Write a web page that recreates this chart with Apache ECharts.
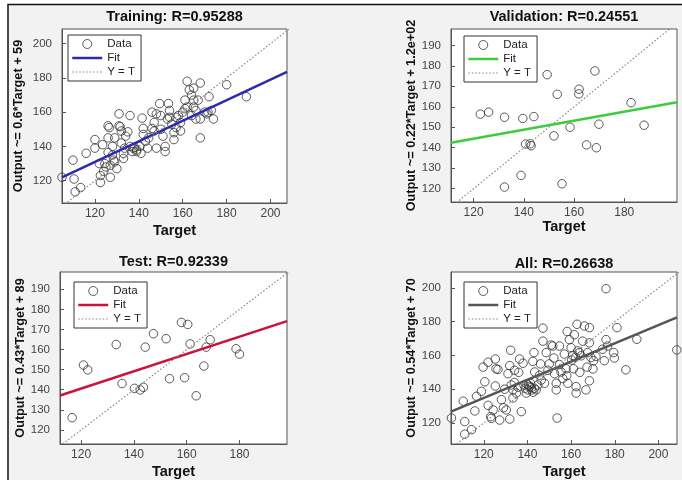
<!DOCTYPE html>
<html>
<head>
<meta charset="utf-8">
<script src="https://cdn.jsdelivr.net/npm/echarts@6/dist/echarts.min.js"></script>
<style>html,body{margin:0;padding:0;background:#fff}#c{width:682px;height:480px}</style>
</head>
<body>
<div id="c"></div>
<script>
// ---------------- DATA ----------------
const panelTitles = ['Training: R=0.95288', 'Validation: R=0.24551', 'Test: R=0.92339', 'All: R=0.26638'];
const yAxisLabels = ['Output ~= 0.6*Target + 59', 'Output ~= 0.22*Target + 1.2e+02', 'Output ~= 0.43*Target + 89', 'Output ~= 0.54*Target + 70'];
const xAxisLabel = 'Target';
const legendNames = ['Data', 'Fit', 'Y = T'];
const fitSlope = [0.6, 0.22, 0.43, 0.54];
const fitIntercept = [59, 118, 89, 70];
const xRange = [[105, 207.5], [111, 201], [112, 198], [105, 208.5]];
const yRange = [[107, 208.5], [113.5, 198], [113, 198.6], [107.5, 209.5]];
const xTicks = [[120, 140, 160, 180, 200], [120, 140, 160, 180], [120, 140, 160, 180], [120, 140, 160, 180, 200]];
const yTicks = [[120, 140, 160, 180, 200], [120, 130, 140, 150, 160, 170, 180, 190], [120, 130, 140, 150, 160, 170, 180, 190], [120, 140, 160, 180, 200]];

const trainingPts = [[105,122],[110,132],[110.5,121],[111,113.5],[113.5,116],[116,136],[120,144],[120,139],[122,130],[122.5,119],[122.5,123],[123.5,141],[124,125.5],[124.5,130],[125,128],[126,152],[126.5,151],[126,136.5],[126,145],[127,122],[127,129],[128,135],[128,140],[128.5,132],[129,131],[129,145],[130,127],[131,159],[131,152],[131.5,151.5],[132,142],[132,149],[133,136],[133,133],[133.5,139],[135,148.5],[136,158],[136,140],[134,146],[137.5,139],[137,137],[138,139.5],[139,138],[139,137],[140.5,140],[141.5,156.5],[142,150.5],[141,136],[142,147],[143,143],[144,139],[144.5,145],[146,150.5],[146,160],[147,154],[148,159],[147,149],[148,139],[149.5,165],[150,158],[150,150],[151,146],[152,140],[152,137],[153,156],[153.5,165],[154,161],[155,153],[154,157],[156,148],[156,144],[157,157],[157,151],[158,158],[159,154],[159,149],[160,160],[161,167],[162,178],[161,162],[162,163],[163,173],[164,170],[164,158],[165,163],[165,167],[165,174],[166,156],[166,161],[168,177],[167,167],[168,145],[168,156],[170,160],[171,159],[171.5,160],[172,169],[174,156],[173,161],[180,176],[189,169],[208,163]];
const validationPts = [[122.7,156.4],[126,157.4],[132.3,154.9],[132.3,120.8],[138.9,126.5],[139.6,154.3],[140.7,141.8],[142.5,141.9],[142.9,141],[144,155.2],[149.3,175.7],[152,145.8],[153.3,166.1],[155.2,122.4],[158.4,150],[162,168.6],[161.9,166.3],[165,141.4],[168.9,140],[168.3,177.5],[169.9,151.5],[182.7,162],[187.9,151]];
const testPts = [[116.6,126.1],[120.9,152.3],[122.5,149.9],[133.3,162.5],[135.5,143.1],[140.2,140.7],[142.4,139.9],[143.6,141.2],[144.3,161.2],[147.4,167.9],[152.2,165.4],[153.5,145.5],[158,173.5],[160.4,172.5],[159.2,146],[161.3,162.8],[163.6,137],[166.5,151.8],[167.4,161.2],[168.9,164.9],[178.7,160.4],[180,157.7]];
const allPts = [[105.2,122.9],[110.6,132.9],[111.3,120.8],[111.3,113.3],[114.4,116],[115.9,127.1],[116.7,135.8],[118.9,138.7],[119.7,153.1],[120.5,144.4],[122,156],[122,130.4],[123.2,123.7],[123.5,122.7],[124.3,127.7],[125.3,157.9],[125.3,141.9],[125.6,152.1],[126.5,151.7],[127.3,121.7],[128.1,133.8],[129,129],[129.6,140],[130.3,127.7],[131.9,122.3],[131.1,149.2],[132.3,163.1],[131.9,154],[132.6,142.5],[133.4,139.6],[133.4,134.8],[134.1,151.2],[134.9,137.7],[135.7,141.2],[136.4,157.9],[137.2,126.7],[138,155.4],[138.4,142.5],[139,140.6],[139.5,137.7],[140.2,139.6],[141,141.5],[141.4,143.5],[142,139.6],[142.5,156.5],[143,161.7],[143.3,150.2],[144,139.6],[144.8,142.5],[145.6,148.3],[146.3,145.4],[147.1,176.2],[147.1,168.5],[147.8,143.5],[148.6,161.7],[149.4,151.2],[150.9,166.2],[151.6,165.6],[152.1,158.5],[152.4,149.2],[153.2,143.5],[153.2,139.6],[153.6,122.9],[154.7,165.6],[154.7,154.6],[155.4,150.2],[156.2,146.3],[156.9,160.8],[157.7,152.1],[158.2,174.2],[158.5,143.5],[159.2,169.4],[160,164.6],[160.3,157.3],[161.1,152.1],[161.5,172.3],[162.3,137.7],[162.3,141.5],[162.7,178.5],[163,162.7],[163.8,161.7],[164.6,159.8],[165.3,168.5],[166.1,177.5],[166.8,139.6],[167.3,153.1],[167.6,161.7],[168.4,176.5],[168.4,145],[168.4,167.5],[169.1,158.8],[170.3,156.9],[171.4,159.4],[174.4,163.7],[176,169.4],[176,199.6],[175.2,156.9],[176.7,165.6],[179.5,161.7],[179.8,158.5],[181,176.5],[185.1,151.5],[190.1,169.6],[208.4,163.3],[140.5,142.5],[141.8,141],[143.2,140.5],[139.8,143],[142.6,138.2],[160.8,160],[162,159],[134,144],[136,150],[146,155],[150,155],[158,148],[164,150],[170,152]];
const panelPts = [trainingPts, validationPts, testPts, allPts];

// ---------------- STYLE / LAYOUT ----------------
const FONT = '"Liberation Sans", Arial, sans-serif';
const fitColors = ['#2b2bb0', '#3dcc3d', '#c8143c', '#555555'];
const CLEAR = 'rgba(0,0,0,0)';
const grids = [
  {left: 62, top: 29, width: 225, height: 174},
  {left: 451, top: 29, width: 226, height: 173},
  {left: 60, top: 272, width: 227, height: 177},
  {left: 451, top: 272, width: 226, height: 177}
];
const titleTops = [9, 9, 254, 256];
const xNameGaps = [20, 13.5, 20, 20];
const yNameGaps = [37, 33, 33, 33];
const legendPos = [[68, 35], [464, 36], [74, 282], [464, 282]];

const option = {
  animation: false,
  backgroundColor: '#ffffff',
  graphic: [{
    type: 'rect', z: -10, silent: true,
    shape: {x: 8, y: 4.5, width: 800, height: 600},
    style: {fill: '#f2f2f2', stroke: '#111', lineWidth: 1.5}
  }],
  title: [], grid: [], xAxis: [], yAxis: [], legend: [], series: []
};

for (let i = 0; i < 4; i++) {
  const g = grids[i];
  option.grid.push(Object.assign({show: true, backgroundColor: '#ffffff', borderColor: '#555', borderWidth: 1}, g));
  option.title.push({
    text: panelTitles[i], left: g.left + g.width / 2, top: titleTops[i], textAlign: 'center', padding: 0,
    textStyle: {fontFamily: FONT, fontWeight: 'bold', fontSize: 14.5, color: '#111'}
  });
  option.xAxis.push({
    gridIndex: i, type: 'value', min: xRange[i][0], max: xRange[i][1],
    name: xAxisLabel, nameLocation: 'middle', nameGap: xNameGaps[i],
    nameTextStyle: {fontFamily: FONT, fontWeight: 'bold', fontSize: 14.5, color: '#111'},
    axisLine: {show: true, lineStyle: {color: '#555', width: 1}},
    axisTick: {show: true, inside: true, length: 4, lineStyle: {color: '#555'}, customValues: xTicks[i]},
    axisLabel: {customValues: xTicks[i], fontFamily: FONT, fontSize: 12, color: '#444', margin: 5},
    splitLine: {show: false}
  });
  option.yAxis.push({
    gridIndex: i, type: 'value', min: yRange[i][0], max: yRange[i][1],
    name: yAxisLabels[i], nameLocation: 'middle', nameGap: yNameGaps[i],
    nameTextStyle: {fontFamily: FONT, fontWeight: 'bold', fontSize: 12.7, color: '#111'},
    axisLine: {show: true, lineStyle: {color: '#555', width: 1}},
    axisTick: {show: true, inside: true, length: 4, lineStyle: {color: '#555'}, customValues: yTicks[i]},
    axisLabel: {customValues: yTicks[i], fontFamily: FONT, fontSize: 11.5, color: '#444', margin: 10},
    splitLine: {show: false}
  });
  option.legend.push({
    left: legendPos[i][0], top: legendPos[i][1], orient: 'vertical', selectedMode: false,
    padding: [3, 6, 3, 3], itemWidth: 30, itemHeight: 9, itemGap: 2,
    backgroundColor: '#ffffff', borderColor: '#333', borderWidth: 1, borderRadius: 0,
    textStyle: {fontFamily: FONT, fontSize: 11.5, color: '#222'},
    data: [
      {name: legendNames[0], icon: 'circle', itemStyle: {color: CLEAR, borderColor: '#333', borderWidth: 1}},
      {name: legendNames[1], itemStyle: {color: CLEAR, borderColor: CLEAR, borderWidth: 0}, lineStyle: {color: fitColors[i], width: 2.5}},
      {name: legendNames[2], itemStyle: {color: CLEAR, borderColor: CLEAR, borderWidth: 0}, lineStyle: {color: '#888', width: 1.2, type: [1.5, 2]}}
    ]
  });
  const x0 = xRange[i][0], x1 = xRange[i][1];
  const lo = Math.min(xRange[i][0], yRange[i][0]), hi = Math.max(xRange[i][1], yRange[i][1]);
  option.series.push({
    type: 'scatter', name: legendNames[0], xAxisIndex: i, yAxisIndex: i, data: panelPts[i],
    symbol: 'circle', symbolSize: 8.5, silent: true, z: 2,
    itemStyle: {color: CLEAR, borderColor: '#333', borderWidth: 1}
  });
  option.series.push({
    type: 'line', name: legendNames[1], xAxisIndex: i, yAxisIndex: i, symbol: 'none', silent: true, z: 3, clip: true,
    data: [[x0, fitSlope[i] * x0 + fitIntercept[i]], [x1, fitSlope[i] * x1 + fitIntercept[i]]],
    lineStyle: {color: fitColors[i], width: 2.5}
  });
  option.series.push({
    type: 'line', name: legendNames[2], xAxisIndex: i, yAxisIndex: i, symbol: 'none', silent: true, z: 3, clip: true,
    data: [[lo, lo], [hi, hi]],
    lineStyle: {color: '#888', width: 1.2, type: [1.5, 2]}
  });
}

const chart = echarts.init(document.getElementById('c'), null, {renderer: 'canvas'});
chart.setOption(option);
</script>
</body>
</html>
